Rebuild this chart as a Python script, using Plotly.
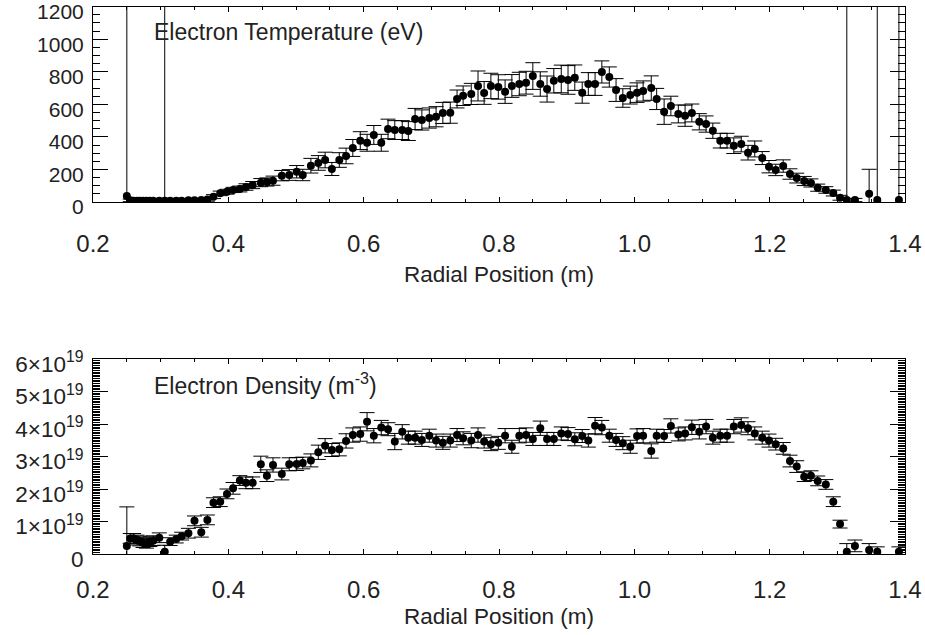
import plotly.graph_objects as go

# Radial positions (m)
radius = [0.250, 0.255, 0.260, 0.265, 0.269, 0.274, 0.279, 0.284, 0.289, 0.298,
          0.306, 0.314, 0.323, 0.331, 0.341, 0.350, 0.360, 0.369,
          0.378, 0.388, 0.398, 0.407, 0.417, 0.426, 0.436, 0.448, 0.457, 0.466,
          0.479, 0.490, 0.501, 0.510, 0.522, 0.533, 0.543, 0.553, 0.564, 0.574,
          0.584, 0.595, 0.605, 0.615, 0.626, 0.636, 0.646, 0.657, 0.666, 0.676,
          0.686, 0.697, 0.707, 0.717, 0.728, 0.738, 0.747, 0.759, 0.769, 0.778,
          0.788, 0.799, 0.809, 0.819, 0.830, 0.840, 0.850, 0.861, 0.871, 0.881,
          0.892, 0.902, 0.912, 0.923, 0.932, 0.942, 0.952, 0.963, 0.973, 0.983,
          0.994, 1.004, 1.013, 1.025, 1.033, 1.044, 1.054, 1.065, 1.075, 1.085,
          1.096, 1.106, 1.116, 1.127, 1.137, 1.147, 1.158, 1.168, 1.178, 1.189,
          1.199, 1.209, 1.220, 1.230, 1.240, 1.251, 1.261, 1.271, 1.283, 1.294,
          1.304, 1.314, 1.326, 1.347, 1.359, 1.391]

# Electron temperature (eV) and its uncertainty
te = [37, 10, 8, 8, 8, 8, 8, 8, 8, 8,
      8, 8, 8, 8, 10, 10, 12, 15,
      33, 53, 63, 74, 80, 92, 104, 119, 123, 131,
      162, 166, 186, 166, 223, 240, 258, 203, 258, 283,
      332, 377, 364, 412, 364, 449, 442, 442, 436, 510,
      504, 516, 524, 547, 549, 633, 653, 664, 713, 670,
      713, 707, 678, 713, 725, 733, 774, 725, 694, 745,
      756, 750, 764, 672, 725, 725, 799, 768, 688, 639,
      657, 672, 682, 700, 633, 555, 590, 541, 530, 547,
      493, 479, 438, 377, 377, 346, 356, 303, 326, 270,
      217, 197, 221, 172, 147, 129, 117, 88, 74, 55,
      26, 12, 12, 51, 12, 12]
te_err = [3000, 8, 8, 8, 8, 8, 8, 8, 8, 8,
          3000, 8, 8, 8, 8, 8, 10, 10,
          12, 14, 15, 16, 18, 20, 22, 25, 25, 28,
          32, 33, 38, 35, 45, 45, 48, 40, 45, 48,
          52, 55, 52, 58, 52, 60, 58, 58, 58, 65,
          62, 62, 62, 65, 65, 55, 60, 65, 92, 70,
          78, 75, 72, 70, 72, 70, 82, 75, 80, 75,
          85, 88, 78, 65, 70, 70, 68, 62, 70, 57,
          55, 60, 62, 75, 65, 78, 60, 55, 65, 55,
          50, 50, 47, 45, 45, 48, 48, 45, 49, 40,
          38, 35, 38, 32, 30, 28, 25, 22, 20, 18,
          15, 3000, 10, 150, 3000, 3000]

# Electron density (units of 1e19 m^-3) and its uncertainty
ne = [0.25, 0.48, 0.48, 0.43, 0.40, 0.35, 0.33, 0.38, 0.41, 0.50,
      0.07, 0.38, 0.46, 0.55, 0.64, 1.02, 0.67, 1.05,
      1.58, 1.61, 1.85, 2.02, 2.26, 2.19, 2.19, 2.76, 2.41, 2.74,
      2.46, 2.76, 2.77, 2.80, 2.88, 3.13, 3.33, 3.20, 3.22, 3.48,
      3.66, 3.69, 4.07, 3.64, 3.89, 3.84, 3.46, 3.76, 3.58, 3.58,
      3.51, 3.64, 3.49, 3.42, 3.49, 3.66, 3.56, 3.49, 3.66, 3.46,
      3.38, 3.42, 3.64, 3.30, 3.64, 3.66, 3.54, 3.87, 3.54, 3.54,
      3.71, 3.69, 3.53, 3.63, 3.49, 3.95, 3.89, 3.64, 3.51, 3.41,
      3.30, 3.63, 3.64, 3.17, 3.64, 3.63, 3.94, 3.68, 3.71, 3.90,
      3.76, 3.92, 3.58, 3.64, 3.64, 3.92, 3.97, 3.87, 3.71, 3.58,
      3.49, 3.38, 3.25, 2.86, 2.69, 2.38, 2.41, 2.25, 2.14, 1.61,
      0.92, 0.07, 0.25, 0.12, 0.07, 0.07]
ne_err = [1.20, 0.15, 0.15, 0.15, 0.15, 0.15, 0.15, 0.15, 0.15, 0.15,
          0.20, 0.12, 0.12, 0.12, 0.15, 0.15, 0.15, 0.15,
          0.15, 0.15, 0.15, 0.18, 0.15, 0.18, 0.18, 0.25, 0.18, 0.22,
          0.18, 0.20, 0.20, 0.18, 0.20, 0.22, 0.22, 0.20, 0.20, 0.22,
          0.22, 0.22, 0.28, 0.22, 0.22, 0.20, 0.25, 0.22, 0.20, 0.20,
          0.20, 0.20, 0.20, 0.20, 0.20, 0.20, 0.20, 0.22, 0.22, 0.20,
          0.20, 0.20, 0.22, 0.20, 0.22, 0.22, 0.20, 0.22, 0.20, 0.20,
          0.20, 0.20, 0.20, 0.20, 0.20, 0.25, 0.22, 0.20, 0.20, 0.20,
          0.20, 0.22, 0.22, 0.22, 0.20, 0.20, 0.22, 0.20, 0.20, 0.22,
          0.22, 0.22, 0.20, 0.20, 0.20, 0.22, 0.22, 0.20, 0.20, 0.20,
          0.20, 0.18, 0.18, 0.18, 0.18, 0.15, 0.15, 0.15, 0.15, 0.15,
          0.12, 0.25, 0.18, 0.20, 0.15, 0.15]

x_ticks = [0.2, 0.4, 0.6, 0.8, 1.0, 1.2, 1.4]
x_tick_text = ["0.2", "0.4", "0.6", "0.8", "1.0", "1.2", "1.4"]
te_ticks = [0, 200, 400, 600, 800, 1000, 1200]
te_tick_text = ["0", "200", "400", "600", "800", "1000", "1200"]
ne_ticks = [0, 1, 2, 3, 4, 5, 6]
ne_tick_text = ["0", "1\u00d710<sup>19</sup>", "2\u00d710<sup>19</sup>", "3\u00d710<sup>19</sup>",
                "4\u00d710<sup>19</sup>", "5\u00d710<sup>19</sup>", "6\u00d710<sup>19</sup>"]

FONT = "Liberation Sans, Arial, Helvetica, sans-serif"
TXT = "#222222"

marker = dict(color="black", size=8, symbol="circle")


def err(vals):
    return dict(type="data", array=vals, visible=True, color="black", thickness=1, width=7.5)


fig = go.Figure()
fig.add_trace(go.Scatter(x=radius, y=te, mode="markers", marker=marker,
                         error_y=err(te_err), xaxis="x", yaxis="y", showlegend=False))
fig.add_trace(go.Scatter(x=radius, y=ne, mode="markers", marker=marker,
                         error_y=err(ne_err), xaxis="x2", yaxis="y2", showlegend=False))

xd = [93 / 925, 905 / 925]


def xaxis_cfg(anchor, label_standoff, title_standoff):
    return dict(range=[0.2, 1.4], tickvals=x_ticks, ticktext=x_tick_text,
                ticks="inside", ticklen=5, tickcolor="black", tickwidth=1,
                minor=dict(dtick=0.05, ticks="inside", ticklen=3, tickcolor="black", tickwidth=1),
                showline=True, linecolor="black", linewidth=1, mirror="ticks",
                showgrid=False, zeroline=False, automargin=False,
                tickfont=dict(family=FONT, size=24, color=TXT),
                ticklabelstandoff=label_standoff, ticklabeloverflow="allow",
                title=dict(text="Radial Position (m)", font=dict(family=FONT, size=22.5, color=TXT),
                           standoff=title_standoff),
                domain=xd, anchor=anchor)


def yaxis_cfg(rng, tv, tt, minor_dtick, domain, anchor, fsize):
    return dict(range=rng, tickvals=tv, ticktext=tt,
                ticks="inside", ticklen=15, tickcolor="black", tickwidth=1,
                minor=dict(dtick=minor_dtick, ticks="inside", ticklen=7, tickcolor="black", tickwidth=1),
                showline=True, linecolor="black", linewidth=1, mirror="ticks",
                showgrid=False, zeroline=False, automargin=False,
                tickfont=dict(family=FONT, size=fsize, color=TXT), ticklabelstandoff=4,
                ticklabelshift=5, ticklabeloverflow="allow",
                domain=domain, anchor=anchor)


fig.update_layout(
    width=925, height=635,
    margin=dict(l=0, r=0, t=0, b=0),
    paper_bgcolor="white", plot_bgcolor="white",
    xaxis=xaxis_cfg("y", 20, 10),
    xaxis2=xaxis_cfg("y2", 14, 6),
    yaxis=yaxis_cfg([0, 1200], te_ticks, te_tick_text, 50,
                    [1 - 202 / 635, 1 - 6.7 / 635], "x", 21),
    yaxis2=yaxis_cfg([0, 6], ne_ticks, ne_tick_text, 0.05,
                     [1 - 554 / 635, 1 - 359 / 635], "x2", 22.5),
    annotations=[
        dict(text="Electron Temperature (eV)", xref="paper", yref="paper",
             x=152 / 925, y=1 - 32 / 635, xanchor="left", yanchor="middle", showarrow=False,
             font=dict(family=FONT, size=23, color=TXT)),
        dict(text="Electron Density (m<sup>-3</sup>)", xref="paper", yref="paper",
             x=152 / 925, y=1 - 384 / 635, xanchor="left", yanchor="middle", showarrow=False,
             font=dict(family=FONT, size=23, color=TXT)),
    ],
)

fig.write_html("out.html")
